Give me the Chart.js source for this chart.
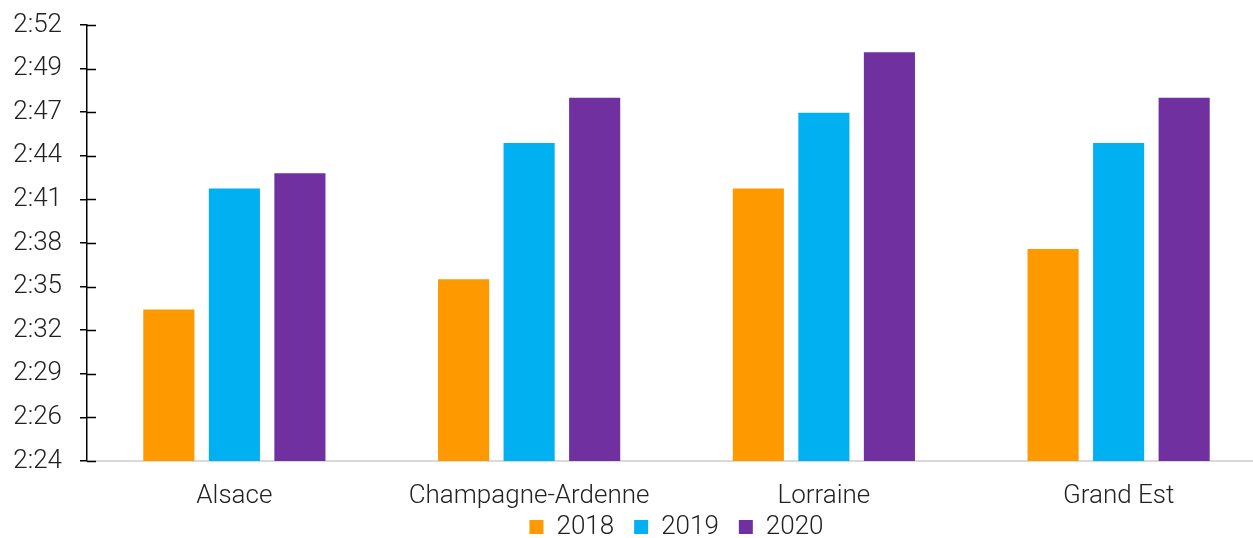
<!DOCTYPE html>
<html>
<head>
<meta charset="utf-8">
<script src="https://cdn.jsdelivr.net/npm/chart.js@4/dist/chart.umd.min.js"></script>
<style>
  html, body { margin: 0; padding: 0; background: #fff; overflow: hidden; }
  #wrap { position: relative; width: 1266px; height: 560px; }
</style>
</head>
<body>
<div id="wrap"><canvas id="chart"></canvas></div>
<script>
// Durations in minutes (2:34 = 154)
const regions = ['Alsace', 'Champagne-Ardenne', 'Lorraine', 'Grand Est'];
const years = ['2018', '2019', '2020'];
const values2018 = [154, 156, 162, 158];
const values2019 = [162, 165, 167, 165];
const values2020 = [163, 168, 171, 168];
const colors = ['#FF9900', '#00B0F0', '#7030A0'];

// axis ticks (Excel steps of 0.002 day = 2.88 min)
const yTicks = [144, 146.88, 149.76, 152.64, 155.52, 158.4, 161.28, 164.16, 167.04, 169.92, 172.8];
const yLabels = ['2:24', '2:26', '2:29', '2:32', '2:35', '2:38', '2:41', '2:44', '2:47', '2:49', '2:52'];

const FONT = { family: 'Roboto, "Liberation Sans", sans-serif', size: 26, weight: '300', lineHeight: 1.15 };
const TEXT = '#222222';

const seriesValues = [values2018, values2019, values2020];

// ticks on the y axis cross the axis line
const crossTicks = {
    id: 'crossTicks',
    afterDraw(chart) {
        const y = chart.scales.y;
        const ctx = chart.ctx;
        ctx.save();
        ctx.strokeStyle = '#000';
        ctx.lineWidth = 1.5;
        y.ticks.forEach((t, i) => {
            const py = Math.round(y.getPixelForTick(i)) + 0.5;
            ctx.beginPath();
            ctx.moveTo(y.right, py);
            ctx.lineTo(y.right + 9, py);
            ctx.stroke();
        });
        ctx.restore();
    }
};

new Chart(document.getElementById('chart'), {
    type: 'bar',
    data: {
        labels: regions,
        datasets: years.map((yr, i) => ({
            label: yr,
            data: seriesValues[i],
            backgroundColor: colors[i],
            borderWidth: 0,
            categoryPercentage: 0.667,
            barPercentage: 0.78
        }))
    },
    options: {
        responsive: true,
        maintainAspectRatio: false,
        animation: false,
        layout: { padding: { top: 25, left: 0, right: 0, bottom: 10 } },
        plugins: {
            legend: {
                position: 'bottom',
                fullSize: false,
                labels: {
                    boxWidth: 14,
                    boxHeight: 14,
                    padding: 20,
                    color: TEXT,
                    font: FONT
                }
            },
            tooltip: { enabled: false }
        },
        scales: {
            x: {
                afterFit(scale) {
                    scale.height = 33;
                    // labels overlap the legend band, so don't clip them to the axis box
                    scale._computeLabelArea = () => null;
                },
                grid: { display: false },
                border: { color: '#D9D9D9', width: 2 },
                ticks: { color: TEXT, font: FONT, padding: 13, maxRotation: 0 }
            },
            y: {
                min: 144,
                max: 172.8,
                afterFit(scale) {
                    scale.width = 87;
                    scale.paddingTop = 0;
                    scale.paddingBottom = 0;
                },
                afterBuildTicks(scale) {
                    scale.ticks = yTicks.map(v => ({ value: v }));
                },
                grid: {
                    drawOnChartArea: false,
                    drawTicks: true,
                    tickLength: 7,
                    color: '#000',
                    lineWidth: 1.5
                },
                border: { color: '#000', width: 1.5 },
                ticks: {
                    color: TEXT,
                    font: FONT,
                    padding: 18,
                    callback: (v, i) => yLabels[i]
                }
            }
        }
    },
    plugins: [crossTicks]
});
</script>
</body>
</html>
